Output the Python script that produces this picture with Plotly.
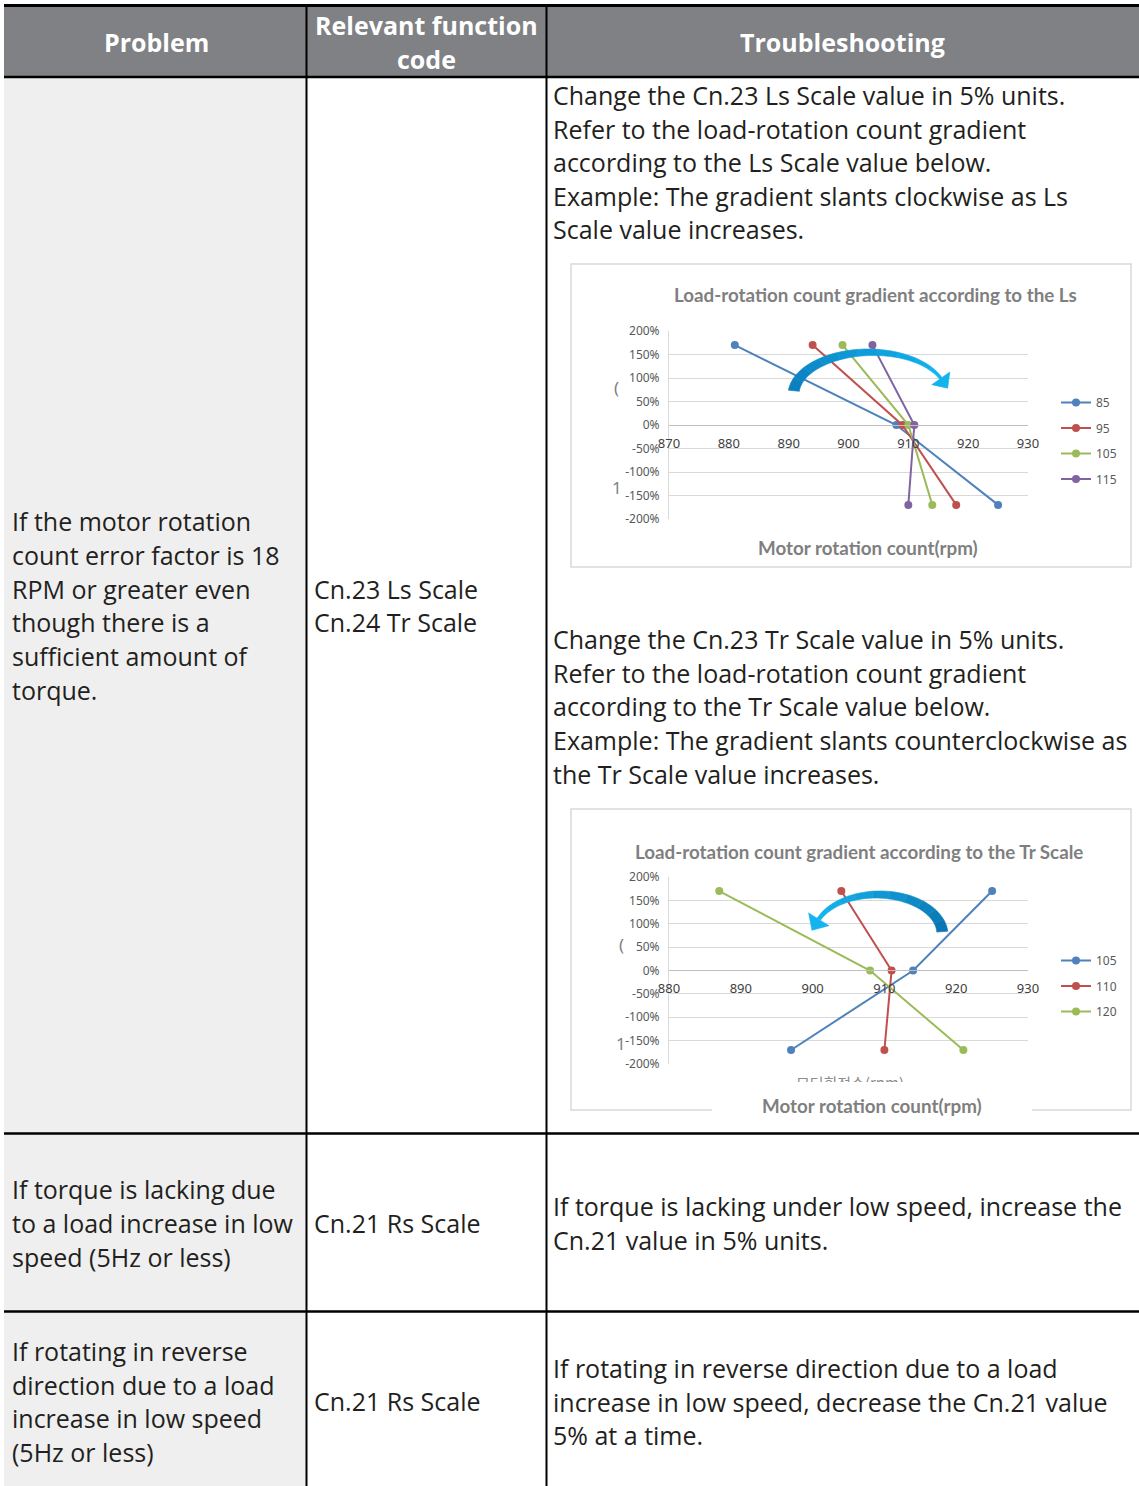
import plotly.graph_objects as go
import numpy as np

W, H = 1139, 1486

# ---------------- data ----------------
load_pct = [170, 0, -170]          # load (%) levels of each series point

# Chart 1: Ls Scale series (motor rpm at each load level)
ls_names = ["85", "95", "105", "115"]
ls85_rpm = [881, 908, 925]
ls95_rpm = [894, 909, 918]
ls105_rpm = [899, 910, 914]
ls115_rpm = [904, 911, 910]

# Chart 2: Tr Scale series
tr_names = ["105", "110", "120"]
tr105_rpm = [925, 914, 897]
tr110_rpm = [904, 911, 910]
tr120_rpm = [887, 908, 921]

y_tick_vals = [200, 150, 100, 50, 0, -50, -100, -150, -200]
y_tick_text = ["200%", "150%", "100%", "50%", "0%", "-50%", "-100%", "-150%", "-200%"]
ls_x_ticks = [870, 880, 890, 900, 910, 920, 930]
tr_x_ticks = [880, 890, 900, 910, 920, 930]

c_blue, c_red, c_green, c_purple = "#4F81BD", "#C0504D", "#9BBB59", "#8064A2"

# ---------------- helpers ----------------
def px(x):
    return x / W

def py(y):
    return 1 - y / H

BODY = "Open Sans"
TXT = "#231f20"
BSIZE = 25

fig = go.Figure()

# ---------------- chart traces ----------------
for name, xs, col in zip(ls_names, [ls85_rpm, ls95_rpm, ls105_rpm, ls115_rpm],
                         [c_blue, c_red, c_green, c_purple]):
    fig.add_trace(go.Scatter(x=xs, y=load_pct, name=name, mode="lines+markers",
                             line=dict(color=col, width=2), marker=dict(color=col, size=8),
                             xaxis="x", yaxis="y", legend="legend", legendgroup="a" + name))

for name, xs, col in zip(tr_names, [tr105_rpm, tr110_rpm, tr120_rpm],
                         [c_blue, c_red, c_green]):
    fig.add_trace(go.Scatter(x=xs, y=load_pct, name=name, mode="lines+markers",
                             line=dict(color=col, width=2), marker=dict(color=col, size=8),
                             xaxis="x2", yaxis="y2", legend="legend2", legendgroup="b" + name))

# partially hidden Korean axis title (clipped by its own tiny subplot)
fig.add_trace(go.Scatter(x=[0.5], y=[-0.2], mode="text", text=["모터회전수(rpm)"],
                         textfont=dict(family="Noto Sans CJK KR", size=15, color="#8c8c8c"),
                         textposition="middle center", cliponaxis=True, showlegend=False,
                         hoverinfo="skip", xaxis="x3", yaxis="y3"))

# ---------------- axes ----------------
axis_font_y = dict(family="Noto Sans", size=12, color="#595959")
axis_font_x = dict(family="Noto Sans", size=13, color="#404040")

def yaxis_cfg(top, bottom, anchor):
    return dict(domain=[py(bottom), py(top)], range=[-200, 200], tickvals=y_tick_vals,
                ticktext=y_tick_text, showgrid=True, gridcolor="#d9d9d9", gridwidth=1,
                zeroline=False, showline=True, linecolor="#d9d9d9", linewidth=1,
                tickfont=axis_font_y, ticks="", ticklabelstandoff=6, anchor=anchor,
                fixedrange=True, automargin=False)

def xaxis_cfg(rng, ticks, zero_y):
    return dict(domain=[px(669), px(1028)], range=rng, tickvals=ticks, showgrid=False,
                zeroline=False, showline=True, linecolor="#bfbfbf", linewidth=1,
                tickfont=axis_font_x, ticks="", anchor="free", position=py(zero_y),
                ticklabelstandoff=6, fixedrange=True, automargin=False)

fig.update_layout(
    xaxis=xaxis_cfg([870, 930], ls_x_ticks, 425),
    yaxis=yaxis_cfg(331, 519, "x"),
    xaxis2=xaxis_cfg([880, 930], tr_x_ticks, 970),
    yaxis2=yaxis_cfg(877, 1064, "x2"),
    xaxis3=dict(domain=[px(600), px(1100)], range=[0, 1], visible=False, anchor="y3",
                fixedrange=True, automargin=False),
    yaxis3=dict(domain=[py(1082), py(1067)], range=[0, 1], visible=False, anchor="x3",
                fixedrange=True, automargin=False),
)

# ---------------- legends ----------------
leg_common = dict(font=dict(family="Noto Sans", size=12, color="#595959"),
                  bgcolor="rgba(0,0,0,0)", xanchor="left", yanchor="top",
                  tracegroupgap=6.5, itemwidth=30)
fig.update_layout(
    legend=dict(x=px(1056), y=py(388), **leg_common),
    legend2=dict(x=px(1056), y=py(946), **leg_common),
)

# ---------------- table shapes ----------------
shapes = []

def rect(x0, y0, x1, y1, fill, line_color=None, lw=0, layer="below"):
    shapes.append(dict(type="rect", xref="paper", yref="paper", x0=px(x0), x1=px(x1),
                       y0=py(y1), y1=py(y0), fillcolor=fill, layer=layer,
                       line=dict(color=line_color or fill, width=lw)))

def hline(y, x0, x1, w, color="black"):
    shapes.append(dict(type="line", xref="paper", yref="paper", x0=px(x0), x1=px(x1),
                       y0=py(y), y1=py(y), line=dict(color=color, width=w), layer="below"))

def vline(x, y0, y1, w, color="black"):
    shapes.append(dict(type="line", xref="paper", yref="paper", x0=px(x), x1=px(x),
                       y0=py(y0), y1=py(y1), line=dict(color=color, width=w), layer="below"))

rect(4, 5, 1139, 77, "#808184")
rect(4, 77, 306, 1486, "#efefef")
# chart boxes
rect(571, 264, 1131, 567, "white", "#d9d9d9", 1.5)
rect(571, 809, 1131, 1110, "white", "#d9d9d9", 1.5)
rect(712, 1100, 1032, 1114, "white")
# borders
hline(5.5, 4, 1139, 3)
hline(77, 4, 1139, 2.5)
hline(1133.5, 4, 1139, 2.5)
hline(1311.5, 4, 1139, 2.5)
vline(306.5, 5, 1486, 2)
vline(546.5, 5, 1486, 2)

# ---------------- curved arrows ----------------
def lerp_col(c0, c1, f):
    a = [int(c0[i:i + 2], 16) for i in (1, 3, 5)]
    b = [int(c1[i:i + 2], 16) for i in (1, 3, 5)]
    return "#%02x%02x%02x" % tuple(int(round(a[k] + (b[k] - a[k]) * f)) for k in range(3))

def path_of(pts):
    return "M " + " L ".join("%.5f,%.5f" % (px(x), py(y)) for x, y in pts) + " Z"

def curved_arrow(cx, cy, rx, ry, t0, t1, w0, w1, col0, col1, head_w, head_l, nseg=10):
    ts = np.radians(np.linspace(t0, t1, nseg * 6 + 1))
    ws = np.linspace(w0, w1, len(ts))
    outer = [(cx + rx * np.cos(t), cy - ry * np.sin(t)) for t in ts]
    inner = [(cx + (rx - w) * np.cos(t), cy - (ry - w) * np.sin(t)) for t, w in zip(ts, ws)]
    for s in range(nseg):
        i0, i1 = s * 6, s * 6 + 6
        pts = outer[i0:i1 + 1] + inner[i0:i1 + 1][::-1]
        col = lerp_col(col0, col1, s / (nseg - 1))
        shapes.append(dict(type="path", xref="paper", yref="paper", path=path_of(pts),
                           fillcolor=col, line=dict(color=col, width=0.6), layer="above"))
    # arrow head
    t = ts[-1]
    sgn = 1 if t1 > t0 else -1
    dx, dy = -rx * np.sin(t) * sgn, -ry * np.cos(t) * sgn
    n = np.hypot(dx, dy)
    ux, uy = dx / n, dy / n
    mx = (outer[-1][0] + inner[-1][0]) / 2
    my = (outer[-1][1] + inner[-1][1]) / 2
    pxv, pyv = -uy, ux
    tri = [(mx + pxv * head_w / 2, my + pyv * head_w / 2),
           (mx + ux * head_l, my + uy * head_l),
           (mx - pxv * head_w / 2, my - pyv * head_w / 2)]
    shapes.append(dict(type="path", xref="paper", yref="paper", path=path_of(tri),
                       fillcolor=col1, line=dict(color=col1, width=0.6), layer="above"))

curved_arrow(868, 395, 80, 46, 174, 22, 11, 3, "#0b7fc0", "#12b4ee", 22, 12)
curved_arrow(880, 935, 68, 44, 5, 158, 11, 4, "#0a76b2", "#16b4ee", 24, 13)

fig.update_layout(shapes=shapes)

# ---------------- text ----------------
ann = []

def text(x, y, s, size=BSIZE, color=TXT, family=BODY, xanchor="left", bold=False):
    if bold:
        s = "<b>" + s + "</b>"
    ann.append(dict(x=px(x), y=py(y), xref="paper", yref="paper", text=s, showarrow=False,
                    xanchor=xanchor, yanchor="middle",
                    font=dict(family=family, size=size, color=color)))

# header
HS = 25
text(156, 42, "Problem", HS, "white", xanchor="center", bold=True)
text(426, 25, "Relevant function", HS, "white", xanchor="center", bold=True)
text(426, 59, "code", HS, "white", xanchor="center", bold=True)
text(842, 42, "Troubleshooting", HS, "white", xanchor="center", bold=True)

C1, C2, C3 = 10, 312, 551
prob1 = ["If the motor rotation", "count error factor is 18", "RPM or greater even",
         "though there is a", "sufficient amount of", "torque."]
for i, s in enumerate(prob1):
    text(C1, 521 + i * 33.8, s)
text(C2, 589, "Cn.23 Ls Scale")
text(C2, 622, "Cn.24 Tr Scale")

para1 = ["Change the Cn.23 Ls Scale value in 5% units.",
         "Refer to the load-rotation count gradient",
         "according to the Ls Scale value below.",
         "Example: The gradient slants clockwise as Ls",
         "Scale value increases."]
for i, s in enumerate(para1):
    text(C3, 95 + i * 33.6, s)
para2 = ["Change the Cn.23 Tr Scale value in 5% units.",
         "Refer to the load-rotation count gradient",
         "according to the Tr Scale value below.",
         "Example: The gradient slants counterclockwise as",
         "the Tr Scale value increases."]
for i, s in enumerate(para2):
    text(C3, 639 + i * 33.7, s)

prob2 = ["If torque is lacking due", "to a load increase in low", "speed (5Hz or less)"]
for i, s in enumerate(prob2):
    text(C1, 1189 + i * 34, s)
text(C2, 1223, "Cn.21 Rs Scale")
text(C3, 1206, "If torque is lacking under low speed, increase the")
text(C3, 1240, "Cn.21 value in 5% units.")

prob3 = ["If rotating in reverse", "direction due to a load", "increase in low speed",
         "(5Hz or less)"]
for i, s in enumerate(prob3):
    text(C1, 1351 + i * 33.7, s)
text(C2, 1401, "Cn.21 Rs Scale")
sol3 = ["If rotating in reverse direction due to a load",
        "increase in low speed, decrease the Cn.21 value",
        "5% at a time."]
for i, s in enumerate(sol3):
    text(C3, 1368 + i * 33.5, s)

# chart texts
CT = "#7f7f7f"
CS = 18.8
text(875, 294, "Load-rotation count gradient according to the Ls", CS, CT, "Lato",
     "center", True)
text(868, 547, "Motor rotation count(rpm)", CS, CT, "Lato", "center", True)
text(859, 852, "Load-rotation count gradient according to the Tr Scale", CS, CT, "Lato",
     "center", True)
text(872, 1105, "Motor rotation count(rpm)", CS, CT, "Lato", "center", True)
text(616, 388, "(", 17, "#7f7f7f", "Noto Sans", "center")
text(617, 488, "1", 17, "#7f7f7f", "Noto Sans", "center")
text(621, 945, "(", 17, "#7f7f7f", "Noto Sans", "center")
text(621, 1043, "1", 17, "#7f7f7f", "Noto Sans", "center")

fig.update_layout(annotations=ann)

fig.update_layout(width=W, height=H,
                  margin=dict(l=0, r=0, t=0, b=0, pad=0, autoexpand=False),
                  paper_bgcolor="white", plot_bgcolor="rgba(0,0,0,0)",
                  showlegend=True, hovermode=False)

fig.write_html("out.html",
               config={"displayModeBar": False, "staticPlot": True},
               post_script="document.body.style.margin='0';"
                           "document.body.style.padding='0';"
                           "document.documentElement.style.overflow='hidden';")
